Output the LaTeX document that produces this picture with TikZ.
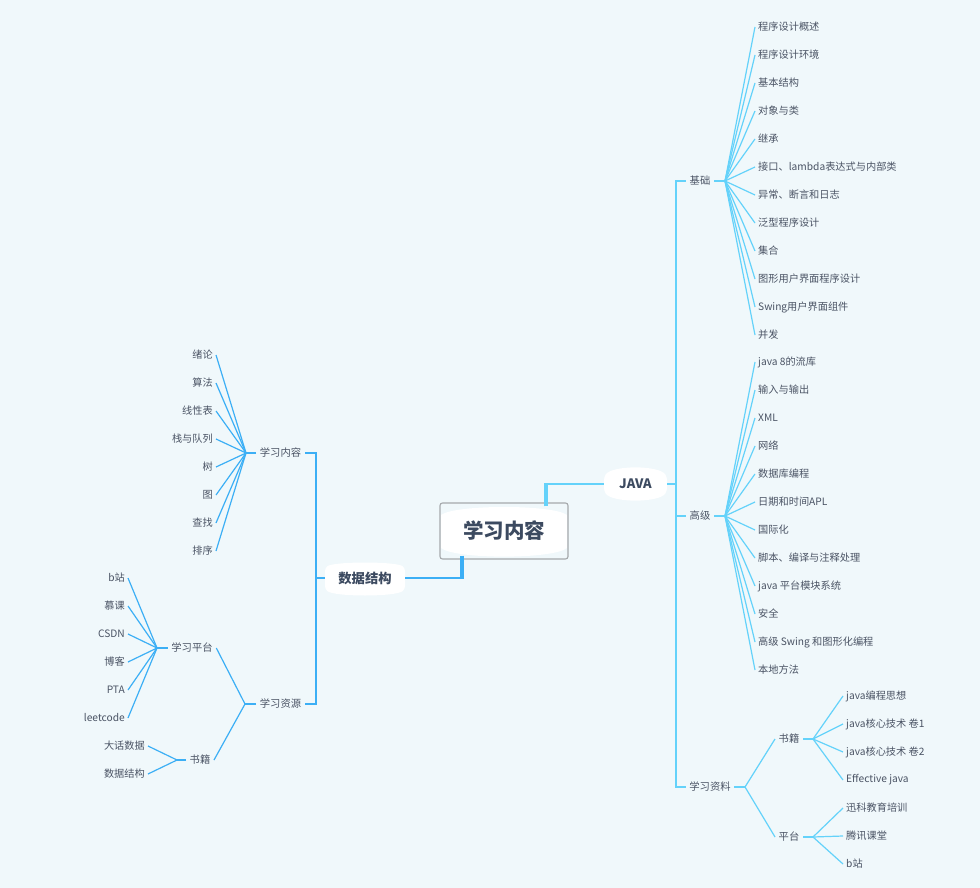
\documentclass[tikz,border=0pt]{standalone}
\usepackage{fontspec}
\setmainfont{Noto Sans CJK SC}
\usetikzlibrary{calc}
\definecolor{bg}{HTML}{F0F8FB}
\definecolor{jcol}{HTML}{64D2FA}
\definecolor{dcol}{HTML}{3CAFF5}
\definecolor{txt}{HTML}{4A5364}
\definecolor{ttl}{HTML}{3C4A60}
\definecolor{boxgray}{HTML}{A6A9AC}
\begin{document}
\begin{tikzpicture}[x=1pt,y=-1pt,
  leaf/.style={font=\fontsize{10.2}{12}\selectfont, text=txt, inner sep=3pt},
  mid/.style={font=\fontsize{10.3}{12}\selectfont, text=txt, inner sep=3.5pt},
  jl/.style={draw=jcol, line width=1.2pt},
  jls/.style={draw=jcol, line width=2pt},
  dl/.style={draw=dcol, line width=1.2pt},
  dls/.style={draw=dcol, line width=2pt},
  topic/.style={font=\bfseries\fontsize{13.3}{15}\selectfont, text=ttl, inner sep=0pt},
]
\useasboundingbox (0,0) rectangle (980,888);
\fill[bg] (0,0) rectangle (980,888);

% ---- white barrels behind main topics
\fill[white] (441,515) .. controls (455,504.3) and (553,504.3) .. (567,515)
  -- (567,548) .. controls (553,559.5) and (455,559.5) .. (441,548) -- cycle;
\fill[white, rounded corners=3pt] (604,477) .. controls (612,465) and (659,465) .. (667,477)
  -- (667,491) .. controls (659,503) and (612,503) .. (604,491) -- cycle;
\fill[white, rounded corners=3pt] (325,568) .. controls (334,561.3) and (396,561.3) .. (405,568)
  -- (405,589) .. controls (396,597) and (334,597) .. (325,589) -- cycle;

% ---- central topic
\node[draw=boxgray, line width=1.1pt, rounded corners=2.5pt, minimum width=128pt,
      minimum height=56pt, inner sep=0pt, text=ttl,
      font=\bfseries\fontsize{20.5}{24}\selectfont] (root) at (504,531) {学习内容};

\node[topic, font=\bfseries\fontsize{13}{15}\selectfont, minimum width=63pt, minimum height=32pt] (java) at (635.5,484) {JAVA};
\node[topic, minimum width=80pt, minimum height=32pt] (dsj) at (365,578) {数据结构};

% ---- connectors from root
\coordinate (jk) at (546,484);
\draw[jcol, line width=2pt] (jk) -- (java.west);
\draw[jcol, line width=4pt] ($(root.north -| jk)+(0,4)$) -- ($(jk)+(0,-1)$);
\coordinate (dk) at (462,578);
\draw[dcol, line width=2pt] (dk) -- (dsj.east);
\draw[dcol, line width=4.5pt] ($(root.south -| dk)+(0,-4)$) -- ($(dk)+(0,1)$);

% ================= JAVA side
\node[mid] (jc) at (700,181) {基础};
\node[mid] (gj) at (700,516) {高级};
\node[mid] (zl) at (710,787) {学习资料};
\coordinate (jt) at (676,484);
\draw[jls] (java.east) -- (jt);
\draw[jls] (jt) |- (jc.west);
\draw[jls] (jt) |- (gj.west);
\draw[jls] (jt) |- (zl.west);

\coordinate (jcf) at (725,181);
\draw[jls] (jc.east) -- (jcf);
\foreach \t [count=\i from 0] in {程序设计概述,程序设计环境,基本结构,对象与类,继承,接口、lambda表达式与内部类,异常、断言和日志,泛型程序设计,集合,图形用户界面程序设计,Swing用户界面组件,并发}{
  \node[leaf, anchor=west] (jcl\i) at (755,27+28*\i) {\t};
  \draw[jl] (jcf) -- (jcl\i.west);
}

\coordinate (gjf) at (725,516);
\draw[jls] (gj.east) -- (gjf);
\foreach \t [count=\i from 0] in {java 8的流库,输入与输出,XML,网络,数据库编程,日期和时间APL,国际化,脚本、编译与注释处理,java 平台模块系统,安全,高级 Swing 和图形化编程,本地方法}{
  \node[leaf, anchor=west] (gjl\i) at (755,362+28*\i) {\t};
  \draw[jl] (gjf) -- (gjl\i.west);
}

\coordinate (zlf) at (745,787);
\draw[jls] (zl.east) -- (zlf);
\node[mid] (sj) at (789,739) {书籍};
\node[mid] (pt) at (789,837) {平台};
\draw[jl] (zlf) -- (sj.west);
\draw[jl] (zlf) -- (pt.west);

\coordinate (sjf) at (813,739);
\draw[jls] (sj.east) -- (sjf);
\foreach \t [count=\i from 0] in {java编程思想,java核心技术 卷1,java核心技术 卷2,Effective java}{
  \node[leaf, anchor=west] (sjl\i) at (843,696+28*\i) {\t};
  \draw[jl] (sjf) -- (sjl\i.west);
}
\coordinate (ptf) at (813,837);
\draw[jls] (pt.east) -- (ptf);
\foreach \t [count=\i from 0] in {迅科教育培训,腾讯课堂,b站}{
  \node[leaf, anchor=west] (ptl\i) at (843,808+28*\i) {\t};
  \draw[jl] (ptf) -- (ptl\i.west);
}

% ================= data structure side
\node[mid] (nr) at (280.5,453) {学习内容};
\node[mid] (zy) at (280.5,704) {学习资源};
\coordinate (dt) at (316,578);
\draw[dls] (dsj.west) -- (dt);
\draw[dls] (dt) |- (nr.east);
\draw[dls] (dt) |- (zy.east);

\coordinate (nrf) at (246,453);
\draw[dls] (nr.west) -- (nrf);
\foreach \t [count=\i from 0] in {绪论,算法,线性表,栈与队列,树,图,查找,排序}{
  \node[leaf, anchor=east] (nrl\i) at (216,355+28*\i) {\t};
  \draw[dl] (nrf) -- (nrl\i.east);
}

\coordinate (zyf) at (245,704);
\draw[dls] (zy.west) -- (zyf);
\node[mid] (xp) at (192,648) {学习平台};
\node[mid] (ls) at (200,760) {书籍};
\draw[dl] (zyf) -- (xp.east);
\draw[dl] (zyf) -- (ls.east);

\coordinate (xpf) at (157,648);
\draw[dls] (xp.west) -- (xpf);
\foreach \t [count=\i from 0] in {b站,慕课,CSDN,博客,PTA,leetcode}{
  \node[leaf, anchor=east] (xpl\i) at (128,578+28*\i) {\t};
  \draw[dl] (xpf) -- (xpl\i.east);
}
\coordinate (lsf) at (177,760);
\draw[dls] (ls.west) -- (lsf);
\foreach \t [count=\i from 0] in {大话数据,数据结构}{
  \node[leaf, anchor=east] (lsl\i) at (148,746+28*\i) {\t};
  \draw[dl] (lsf) -- (lsl\i.east);
}
\end{tikzpicture}
\end{document}
